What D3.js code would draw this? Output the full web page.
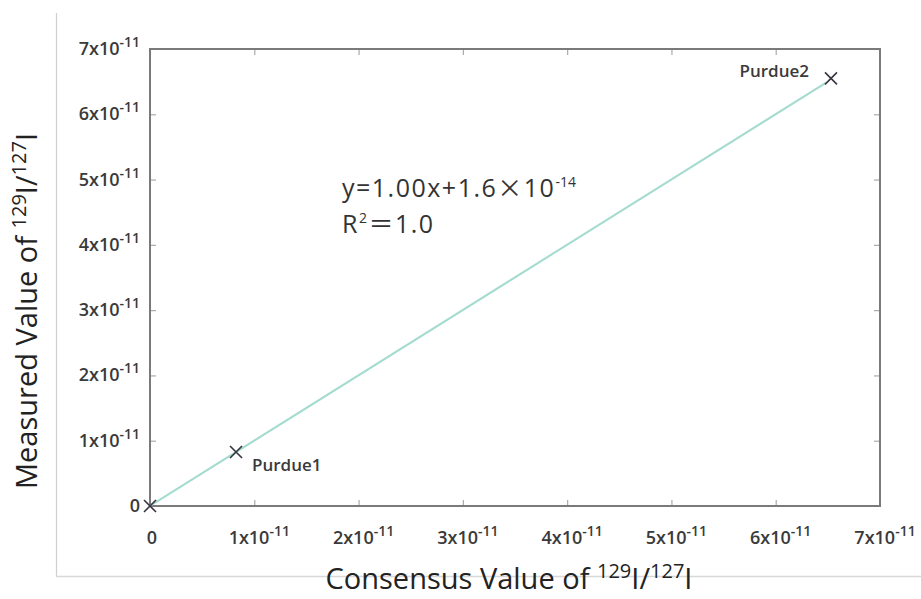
<!DOCTYPE html>
<html><head><meta charset="utf-8">
<script src="https://cdn.jsdelivr.net/npm/d3@7"></script>
<style>body{margin:0;background:#fff;} svg{display:block;}</style>
</head><body>
<svg id="c" width="921" height="599"></svg>
<script>
const tickMantissas = [0,1,2,3,4,5,6,7];
const tickExponent = -11;
const pointNames = ["", "Purdue1", "Purdue2"];
const consensusValues = [0, 0.825e-11, 6.53e-11];
const measuredValues = [0, 0.828e-11, 6.55e-11];
const fitSlope = 1.00;
const fitIntercept = 1.6e-14;
const fitLabel = ["y=1.00x+1.6", "\u00D7", "10", "-14"];
const r2Label = "1.0";

const svg = d3.select("#c");
const L = 150, R = 880, T = 49, B = 506;
const x = d3.scaleLinear().domain([0, 7e-11]).range([L, R]);
const y = d3.scaleLinear().domain([0, 7e-11]).range([B, T]);
const tickVals = tickMantissas.map(m => m * Math.pow(10, tickExponent));
const font = "'Open Sans', 'Noto Sans', sans-serif";
const cjk = "'Noto Sans CJK JP', sans-serif";

// outer light frame lines
svg.append("line").attr("x1",56.5).attr("x2",56.5).attr("y1",13).attr("y2",576.5).attr("stroke","#cfcfcf").attr("stroke-width",1.2);
svg.append("line").attr("x1",56).attr("x2",921).attr("y1",576.5).attr("y2",576.5).attr("stroke","#d8d8d8").attr("stroke-width",1.5);

// axes with inward ticks
const fmt = () => "";
const gB = svg.append("g").attr("transform",`translate(0,${B})`).call(d3.axisTop(x).tickValues(tickVals.slice(1,-1)).tickSize(6).tickFormat(fmt));
const gT = svg.append("g").attr("transform",`translate(0,${T})`).call(d3.axisBottom(x).tickValues(tickVals.slice(1,-1)).tickSize(6).tickFormat(fmt));
const gL = svg.append("g").attr("transform",`translate(${L},0)`).call(d3.axisRight(y).tickValues(tickVals.slice(1,-1)).tickSize(6).tickFormat(fmt));
const gR = svg.append("g").attr("transform",`translate(${R},0)`).call(d3.axisLeft(y).tickValues(tickVals.slice(1,-1)).tickSize(6).tickFormat(fmt));
[gB,gT,gL,gR].forEach(g=>{g.select(".domain").remove(); g.selectAll(".tick line").attr("stroke","#aaa").attr("stroke-width",1.2);});
svg.append("rect").attr("x",L).attr("y",T).attr("width",R-L).attr("height",B-T).attr("fill","none").attr("stroke","#7a7a7a").attr("stroke-width",2);

// tick labels
function sciLabel(sel, m) {
  if (m === 0) { sel.text("0"); return; }
  sel.append("tspan").text(m + "x10");
  sel.append("tspan").attr("dy", -8).attr("font-size", 14).text("-11");
}
tickMantissas.forEach((m,i) => {
  const t = svg.append("text").attr("x", L - 10).attr("y", y(tickVals[i]) + 6)
    .attr("text-anchor","end").attr("font-family", font).attr("font-size", 18).attr("font-weight", 600).attr("fill","#3a3a3a");
  sciLabel(t, m);
  const tx = svg.append("text").attr("x", x(tickVals[i]) + (m===0?2:5)).attr("y", B + 38)
    .attr("text-anchor","middle").attr("font-family", font).attr("font-size", 18).attr("font-weight", 600).attr("fill","#3a3a3a");
  sciLabel(tx, m);
});

// fit line
const x0 = consensusValues[0], x1 = consensusValues[2] - 0.05e-11;
svg.append("line")
  .attr("x1", x(x0)).attr("y1", y(fitSlope*x0 + fitIntercept))
  .attr("x2", x(x1)).attr("y2", y(fitSlope*x1 + fitIntercept))
  .attr("stroke","#a4dbcf").attr("stroke-width",2);

// points
const s = 6;
consensusValues.forEach((cv,i) => {
  const px = x(cv), py = y(measuredValues[i]);
  svg.append("path").attr("d", `M${px-s},${py-s}L${px+s},${py+s}M${px-s},${py+s}L${px+s},${py-s}`)
    .attr("stroke","#3a3340").attr("stroke-width",1.6).attr("fill","none");
});
svg.append("text").attr("x", x(consensusValues[1]) + 16).attr("y", y(measuredValues[1]) + 19)
  .attr("font-family", font).attr("font-size", 17).attr("font-weight", 600).attr("fill","#3a3a3a").text(pointNames[1]);
svg.append("text").attr("x", x(consensusValues[2]) - 22).attr("y", y(measuredValues[2]) - 1)
  .attr("text-anchor","end").attr("font-family", font).attr("font-size", 17).attr("font-weight", 600).attr("fill","#3a3a3a").text(pointNames[2]);

// equation
const eq = svg.append("text").attr("x", 342).attr("y", 197).attr("font-family", font).attr("font-size", 25)
  .attr("letter-spacing", 1.5).attr("fill","#333");
eq.append("tspan").text(fitLabel[0]);
eq.append("tspan").attr("font-family", cjk).text(fitLabel[1]);
eq.append("tspan").text(fitLabel[2]);
eq.append("tspan").attr("dy", -10).attr("font-size", 14).attr("letter-spacing", 0).text(fitLabel[3]);
const r2 = svg.append("text").attr("x", 342).attr("y", 233).attr("font-family", font).attr("font-size", 25)
  .attr("letter-spacing", 1.5).attr("fill","#333");
r2.append("tspan").text("R");
r2.append("tspan").attr("dy", -10).attr("font-size", 14).text("2");
r2.append("tspan").attr("dy", 10).attr("font-family", cjk).text("\uFF1D");
r2.append("tspan").text(r2Label);

// axis titles
const xt = svg.append("text").attr("x", 509).attr("y", 589).attr("text-anchor","middle")
  .attr("font-family", font).attr("font-size", 29).attr("fill","#222");
xt.append("tspan").text("Consensus Value of ");
xt.append("tspan").attr("dy",-11).attr("font-size",20).text("129");
xt.append("tspan").attr("dy",11).text("I/");
xt.append("tspan").attr("dy",-11).attr("font-size",20).text("127");
xt.append("tspan").attr("dy",11).text("I");

const yt = svg.append("text").attr("transform","translate(37,311) rotate(-90)").attr("text-anchor","middle")
  .attr("font-family", font).attr("font-size", 29).attr("fill","#222");
yt.append("tspan").text("Measured Value of ");
yt.append("tspan").attr("dy",-11).attr("font-size",20).text("129");
yt.append("tspan").attr("dy",11).text("I/");
yt.append("tspan").attr("dy",-11).attr("font-size",20).text("127");
yt.append("tspan").attr("dy",11).text("I");
</script>
</body></html>
